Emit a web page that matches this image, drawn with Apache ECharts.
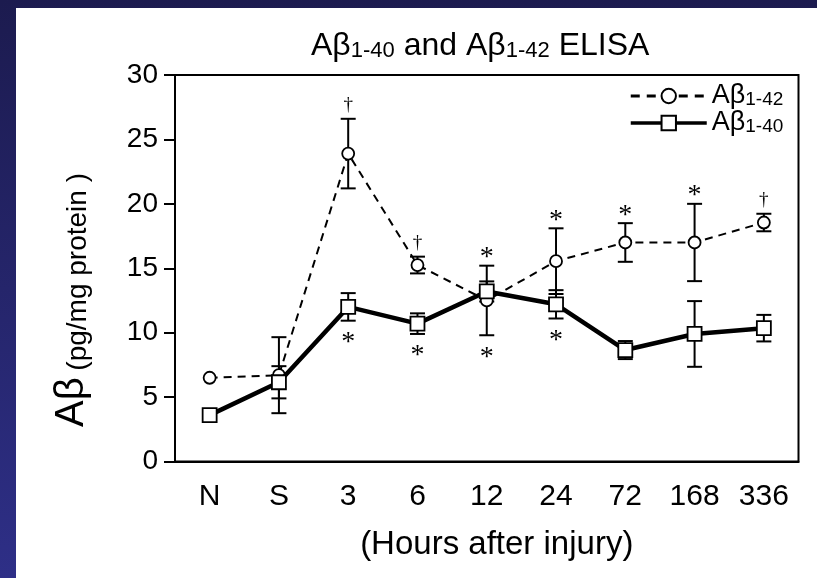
<!DOCTYPE html>
<html><head><meta charset="utf-8">
<script src="https://cdn.jsdelivr.net/npm/echarts@6/dist/echarts.min.js"></script>
<style>
html,body{margin:0;padding:0;overflow:hidden;}
#bg{position:absolute;left:0;top:0;width:817px;height:578px;background:linear-gradient(180deg,#1c1b4f 0%,#2e2f87 100%);}
#white{position:absolute;left:16px;top:8px;width:801px;height:570px;background:#fff;}
#chart{position:absolute;left:0;top:0;width:817px;height:578px;}
</style></head><body>
<div id="bg"></div><div id="white"></div><div id="chart"></div>
<script>
// ---- data ----
const categories = ['N', 'S', '3', '6', '12', '24', '72', '168', '336'];
const yTicks = [0, 5, 10, 15, 20, 25, 30];
const ab42 = [6.5, 6.7, 23.9, 15.25, 12.5, 15.55, 17.0, 17.0, 18.55];
const ab42Err = [0, 2.95, 2.7, 0.65, 2.7, 2.55, 1.5, 3.0, 0.68];
const ab40 = [3.6, 6.15, 12.0, 10.7, 13.2, 12.2, 8.65, 9.9, 10.35];
const ab40Err = [0, 1.25, 1.07, 0.8, 0.78, 1.1, 0.7, 2.55, 1.03];
const sig42 = ['', '', '\u2020', '\u2020', '*', '*', '*', '*', '\u2020'];
const sig40 = ['', '', '*', '*', '*', '*', '', '', ''];

const FONT = 'Liberation Sans, Arial, sans-serif';

function errData(vals, errs) {
  const out = [];
  vals.forEach((v, i) => { if (errs[i] > 0) out.push([i, v - errs[i], v + errs[i]]); });
  return out;
}
function errRender(params, api) {
  const x = api.value(0);
  const lo = api.coord([x, api.value(1)]);
  const hi = api.coord([x, api.value(2)]);
  const h = 7.5;
  const style = { stroke: '#000', lineWidth: 2, fill: null };
  return { type: 'group', children: [
    { type: 'line', shape: { x1: hi[0], y1: hi[1], x2: lo[0], y2: lo[1] }, style: style },
    { type: 'line', shape: { x1: hi[0] - h, y1: hi[1], x2: hi[0] + h, y2: hi[1] }, style: style },
    { type: 'line', shape: { x1: lo[0] - h, y1: lo[1], x2: lo[0] + h, y2: lo[1] }, style: style }
  ]};
}
// annotation anchors computed from the data (upper cap of Aβ42, lowest lower cap)
const sigData = categories.map((c, i) => [i, ab42[i] + ab42Err[i], Math.min(ab42[i] - ab42Err[i], ab40[i] - ab40Err[i])]);
function sigRender(params, api) {
  const i = api.value(0);
  const top = api.coord([i, api.value(1)]);
  const bot = api.coord([i, api.value(2)]);
  const children = [];
  const mk = (t, x, y) => ({ type: 'text', x: x, y: y, style: {
    text: t, fill: '#000', align: 'center', verticalAlign: 'middle',
    font: t === '*' ? '28px Liberation Serif' : '19px Liberation Serif' } });
  if (sig42[i]) children.push(mk(sig42[i], top[0], top[1] - (sig42[i] === '*' ? 8 : 14)));
  if (sig40[i]) children.push(mk(sig40[i], bot[0], bot[1] + 22));
  return { type: 'group', children: children };
}

const chart = echarts.init(document.getElementById('chart'), null, { renderer: 'canvas' });
chart.setOption({
  animation: false,
  backgroundColor: 'transparent',
  title: {
    text: '{a|A\u03b2}{s|1-40}{a| and A\u03b2}{s|1-42}{a| ELISA}',
    left: 306, top: 22,
    textStyle: { fontWeight: 'normal', rich: {
      a: { fontFamily: FONT, fontSize: 32, fontWeight: 'normal', color: '#000', verticalAlign: 'bottom', lineHeight: 35 },
      s: { fontFamily: FONT, fontSize: 22, fontWeight: 'normal', color: '#000', verticalAlign: 'bottom', lineHeight: 28 }
    } }
  },
  grid: { left: 175, right: 18.5, top: 75, bottom: 116.5, show: true, borderColor: '#000', borderWidth: 2, backgroundColor: 'transparent' },
  legend: {
    data: [
      { name: 'A\u03b21-42', lineStyle: { width: 3, type: [9, 7] } },
      { name: 'A\u03b21-40', lineStyle: { width: 3.5 } }
    ],
    orient: 'vertical', left: 624, top: 77, itemWidth: 76, itemHeight: 18, itemGap: 0,
    formatter: name => '{a|A\u03b2}{s|' + name.slice(2) + '}',
    textStyle: { rich: {
      a: { fontFamily: FONT, fontSize: 27, color: '#000', verticalAlign: 'bottom', lineHeight: 26 },
      s: { fontFamily: FONT, fontSize: 19, color: '#000', verticalAlign: 'bottom', lineHeight: 20 }
    } }
  },
  xAxis: {
    type: 'category', data: categories, boundaryGap: true,
    axisLine: { lineStyle: { color: '#000', width: 2 } },
    axisTick: { alignWithLabel: true, length: 11, lineStyle: { color: '#000', width: 2 } },
    axisLabel: { color: '#000', fontFamily: FONT, fontSize: 30, margin: 20 },
    splitLine: { show: false },
    name: '(Hours after injury)', nameLocation: 'middle', nameGap: 67,
    nameTextStyle: { color: '#000', fontFamily: FONT, fontSize: 33, padding: [0, 0, 0, 20] }
  },
  yAxis: {
    type: 'value', min: 0, max: 30, interval: 5,
    axisLine: { show: true, lineStyle: { color: '#000', width: 2 } },
    axisTick: { show: true, length: 11, lineStyle: { color: '#000', width: 2 } },
    axisLabel: { color: '#000', fontFamily: FONT, fontSize: 28, margin: 17,
      formatter: v => yTicks.indexOf(v) >= 0 ? String(v) : '' },
    splitLine: { show: false }
  },
  graphic: [{
    type: 'text', x: 70, y: 300, rotation: Math.PI / 2,
    style: {
      text: '{a|A\u03b2}  {b|(pg/mg protein )}', align: 'center', verticalAlign: 'middle',
      rich: {
        a: { fontFamily: FONT, fontSize: 40, fill: '#000', verticalAlign: 'bottom', lineHeight: 44 },
        b: { fontFamily: FONT, fontSize: 28, fill: '#000', verticalAlign: 'bottom', lineHeight: 34 }
      }
    }
  }],
  series: [
    { type: 'custom', name: 'err42', renderItem: errRender, data: errData(ab42, ab42Err), z: 1, silent: true },
    { type: 'custom', name: 'err40', renderItem: errRender, data: errData(ab40, ab40Err), z: 1, silent: true },
    {
      type: 'line', name: 'A\u03b21-42', data: ab42, z: 3,
      symbol: 'circle', symbolSize: 12, showAllSymbol: true,
      lineStyle: { color: '#000', width: 2, type: [8, 6] },
      itemStyle: { color: '#fff', borderColor: '#000', borderWidth: 1.8 }
    },
    {
      type: 'line', name: 'A\u03b21-40', data: ab40, z: 4,
      symbol: 'rect', symbolSize: 14, showAllSymbol: true,
      lineStyle: { color: '#000', width: 4.5 },
      itemStyle: { color: '#fff', borderColor: '#000', borderWidth: 1.8 }
    },
    { type: 'custom', name: 'sig', renderItem: sigRender, data: sigData, z: 5, silent: true }
  ]
});
</script></body></html>
